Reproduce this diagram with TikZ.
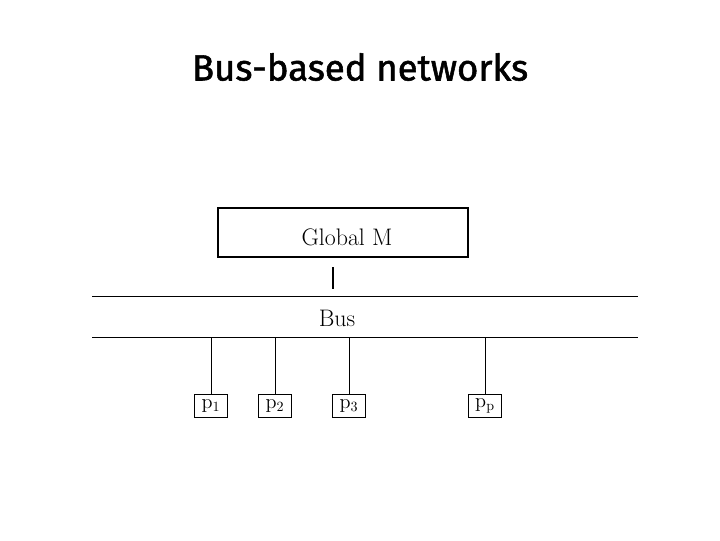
\documentclass[tikz,border=0pt]{standalone}
\usepackage{fontspec}
\newfontfamily\titlefont[FakeBold=1.5]{Fira Sans}
\usetikzlibrary{positioning, calc}

\begin{document}
\begin{tikzpicture}[x=0.025cm, y=-0.025cm,
		line width=0.7pt,
		proc/.style={draw, minimum width=0.82cm, minimum height=0.57cm, inner sep=0pt, font=\Large},
		lbl/.style={font=\fontsize{17}{19}\selectfont}]
				\useasboundingbox (0,0) rectangle (720,540);
				\node(title) at (360,67) {\titlefont\fontsize{26}{30}\selectfont Bus-based networks};
				
				%----------------------------------------------------------------
				\node(gm) [draw, line width=0.9pt, minimum width=6.25cm, minimum height=1.22cm] at (343,232.5) {};
				\node(gmtext) [lbl] at (347,237) {Global M};
				
				\node(bus) [minimum width=13.6cm, minimum height=1cm, inner sep=0pt] at (365,317) {};
				\node(bustext) [lbl] at (337,318) {Bus};
				\draw (bus.north west) -- (bus.north east);
				\draw (bus.south west) -- (bus.south east);
				
				\coordinate (tap) at (333,267);
				\draw [line width=1pt] (tap) -- ++(0,22);
				
				%----------------------------------------------------------------
				\node(p1) [proc] at (211,406) {$\mathrm{p}_1$};
				\node(p2) [proc] at (275,406) {$\mathrm{p}_2$};
				\node(p3) [proc] at (349,406) {$\mathrm{p}_3$};
				\node(pp) [proc] at (485,406) {$\mathrm{p}_\mathrm{p}$};
				
				\draw (p1) -- (p1 |- bus.south);
				\draw (p2) -- (p2 |- bus.south);
				\draw (p3) -- (p3 |- bus.south);
				\draw (pp) -- (pp |- bus.south);
				
\end{tikzpicture}
\end{document}
